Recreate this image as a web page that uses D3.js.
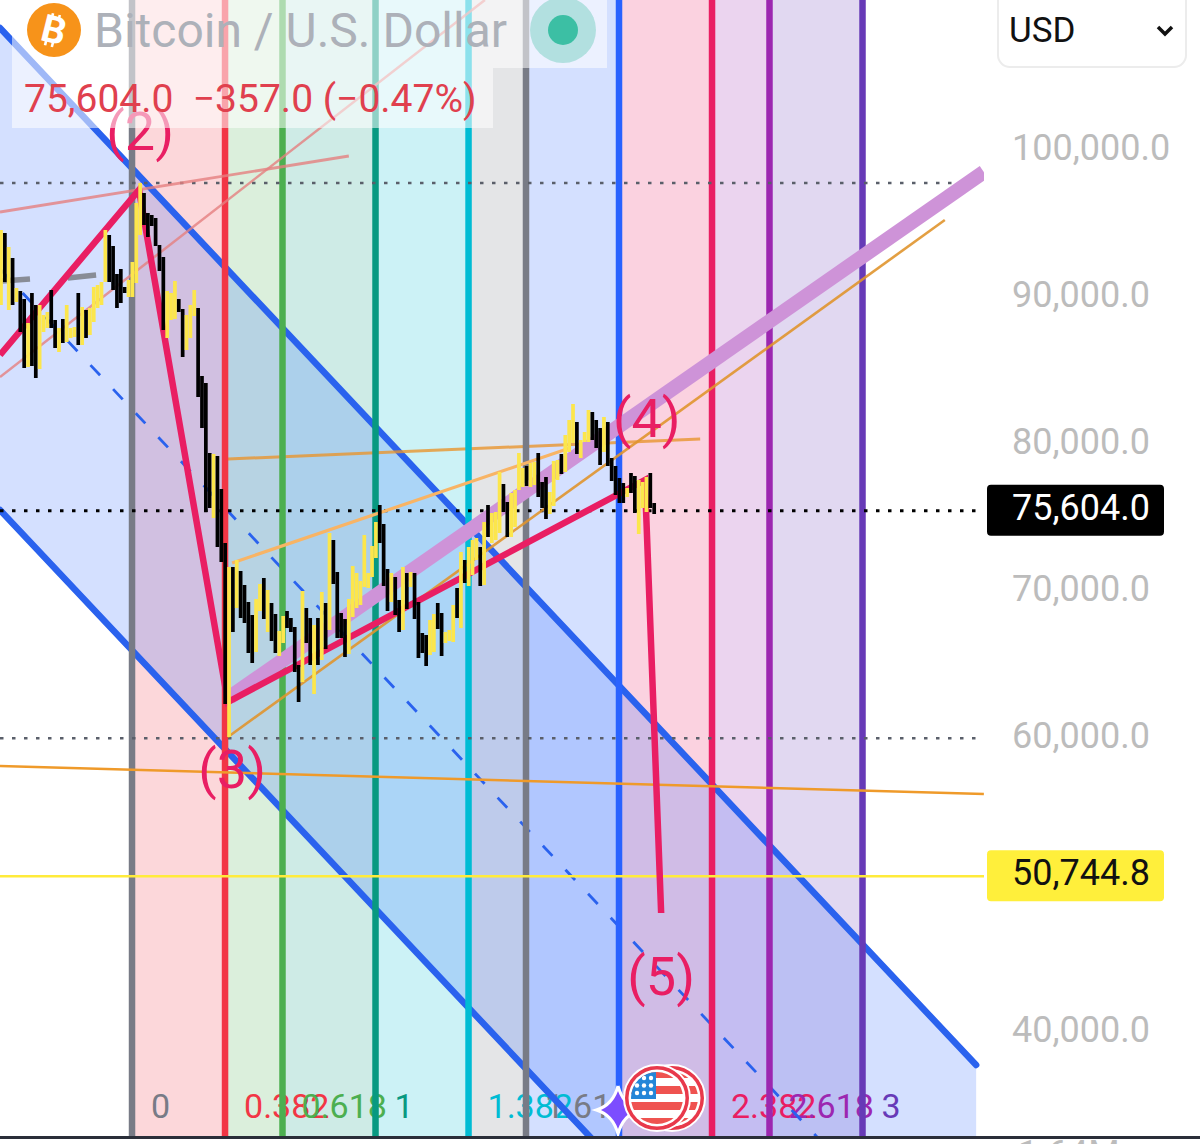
<!DOCTYPE html>
<html><head><meta charset="utf-8">
<script src="https://cdn.jsdelivr.net/npm/d3@7"></script>
<style>html,body{margin:0;padding:0;background:#fff;overflow:hidden}svg{display:block}text{font-family:Roboto,sans-serif}</style>
</head><body><svg id="c" width="1200" height="1144"></svg>
<script>
const candleHigh=[94696,94492,93540,92792,90752,90548,90004,88372,90412,89596,89596,88916,89120,90616,88576,88032,88644,89596,88032,88100,90412,89460,89256,89392,90820,90956,91160,94696,94356,93608,91704,92044,90820,91296,92520,96532,97892,97212,95852,95716,95512,93676,92860,90548,90412,91228,90004,89324,88916,89596,90616,89392,84768,84292,79532,79464,79328,77084,73412,71780,71780,72256,71508,70556,69400,68516,69604,70624,71032,70216,69332,68584,67428,68448,68788,68312,67700,65116,70148,68992,68312,67836,68312,70080,69332,74092,73616,71440,68652,68244,69604,71848,71372,70828,73956,71372,73208,74840,75996,74704,71644,71372,71100,69536,71780,71372,71440,71372,69400,67292,67156,68176,68584,69332,68652,67360,67496,69196,70352,72800,72256,73140,73616,73752,73140,74840,75996,75452,75520,78240,77424,76200,76812,77016,79532,78512,78648,78852,78920,79532,77560,77900,76880,78988,79056,79464,80756,81776,82864,81640,80416,80960,82456,82320,81776,81232,81980,81640,79192,78648,77832,77492,77152,78172,77968,77696,77560,77900,78172,76132];
const candleLow=[89596,91160,89256,89596,89800,87760,85312,85380,85448,84632,85244,87760,88032,88032,86672,86400,87012,87080,87352,87420,86876,86876,87352,87556,88440,89392,89596,91160,91160,90616,89392,89732,90412,90140,90140,91092,94356,95036,94220,94968,93608,91908,87896,87352,88576,88644,89120,86060,86536,87352,88848,83340,81232,75520,75792,75112,73140,72120,62464,60220,67360,68992,68312,67972,65932,65252,66000,68788,68244,67360,66748,65932,65728,66612,67632,67360,64640,62600,63960,66612,65116,63144,65116,65456,66204,67496,70624,66952,66952,65660,65864,68380,68992,69196,70420,70352,71100,72392,73412,70488,68788,69400,68516,67360,67496,68924,70420,68244,65592,65932,65048,65796,66000,67564,65728,66612,66748,66680,68312,67632,70692,70488,71236,72256,70488,70556,73820,73412,73616,74092,75520,73820,73820,74500,77016,77220,77288,77220,77356,76540,75792,75044,75384,75928,77696,78104,78240,79600,80212,79464,79192,80280,80280,80416,79872,78716,79600,78648,77628,76676,76132,76132,76540,76812,75452,74024,75792,75520,75792,75384];
const candleUp=[1,0,1,0,1,0,0,1,0,0,1,1,1,0,0,1,0,1,1,1,0,1,0,1,1,1,1,1,0,0,0,0,0,1,1,1,1,0,0,0,0,0,0,1,1,1,0,0,1,1,1,0,0,0,0,1,0,0,0,1,0,1,0,0,0,0,1,1,0,1,0,0,1,1,0,0,0,0,1,0,0,1,0,1,0,1,0,0,0,0,1,1,1,1,1,1,1,1,0,0,0,1,0,0,1,0,1,0,0,0,0,1,1,0,0,1,1,1,0,1,0,1,1,1,0,1,0,1,1,1,0,0,1,1,1,1,0,1,1,0,0,0,1,1,1,0,1,1,1,0,1,1,1,0,0,0,1,0,0,0,0,0,1,0,0,1,1,1,0,0];
const priceTicks=[100000,90000,80000,70000,60000,40000];
const lastPrice=75604, targetPrice=50744.8, highLevel=97890, lowLevel=60136;
const fibLevels=[0,0.382,0.618,1,1.382,1.618,2,2.382,2.618,3];
const fibColors=["#787B86","#F23645","#4CAF50","#089981","#00BCD4","#787B86","#2962FF","#E91E63","#9C27B0","#673AB7"];
const fibStart=33.9, fibUnit=63;
const channelBars=[-0.26,252.3];
const channelTop=[108432,37916], channelMid=[92044,21528], channelBottom=[75656,5140];
const waveBars=[-0.26,35.7,58.7,166.6,170.8];
const wavePrices=[86196,97416,62600,77696,48252];
const waveLabels=["(2)","(3)","(4)","(5)"];
const waveLabelBars=[36,59.8,167.1,170.8];
const waveLabelPrices=[100136,56752,80620,42676];
const trendLines=[
 {bars:[59.25,254.3],prices:[62940,98640],color:"#ce93d8",width:14.5,layer:1},
 {bars:[-0.26,254.3],prices:[58248,56344],color:"#ef9a2a",width:2.6,layer:1},
 {bars:[58.7,180.9],prices:[79124,80484],color:"#e8952e",width:3,layer:0,op:.8},
 {bars:[59.8,147.2],prices:[72052,79872],color:"#f8b465",width:3.2,layer:1},
 {bars:[58.7,244.2],prices:[60220,95376],color:"#e0952e",width:2.6,layer:1,op:.9},
 {bars:[-0.26,125.2],prices:[84700,110336],color:"#e58080",width:2.5,layer:1,op:.8},
 {bars:[-0.26,90],prices:[95920,99728],color:"#e58080",width:2.8,layer:1,op:.8},
 {bars:[0.26,7.5],prices:[91228,91364],color:"#888c96",width:5.5,layer:1},
 {bars:[17.3,24.6],prices:[91432,91636],color:"#888c96",width:5.5,layer:1}
];
const svg=d3.select("#c");
const x=d3.scaleLinear().domain([0,250]).range([1,1+250*3.865]);
const y=d3.scaleLinear().domain([40000,100000]).range([(110336-40000)/68,152]);
const defs=svg.append("defs");
defs.append("clipPath").attr("id","plot").append("rect").attr("x",0).attr("y",0).attr("width",984).attr("height",1136);
const plot=svg.append("g").attr("clip-path","url(#plot)");
const fibX=r=>x(fibStart+r*fibUnit);
plot.selectAll("rect.band").data(fibLevels.slice(1)).join("rect")
 .attr("x",(d,i)=>fibX(fibLevels[i])).attr("width",(d,i)=>fibX(d)-fibX(fibLevels[i]))
 .attr("y",0).attr("height",1136).attr("fill",(d,i)=>fibColors[i+1]).attr("opacity",.2);
const channelArea=d3.area().x((d,i)=>x(channelBars[i])).y0((d,i)=>y(channelBottom[i])).y1((d,i)=>y(channelTop[i]));
plot.append("path").attr("d",channelArea(channelBars)).attr("fill","#2962FF").attr("opacity",.2);
// fib labels sit under the lines
plot.selectAll("text.fl").data(fibLevels).join("text").attr("x",d=>fibX(d)+19).attr("y",1118).attr("font-size",34)
 .attr("fill",(d,i)=>fibColors[i]).text(d=>d);
const seg=(bars,prices)=>d3.line()(bars.map((b,i)=>[x(b),y(prices[i])]));
[channelTop,channelBottom].forEach(c=>plot.append("path").attr("d",seg(channelBars,c)).attr("stroke","#2a62ee").attr("stroke-width",6.5).attr("stroke-linecap","round").attr("fill","none"));
plot.append("path").attr("d",seg(channelBars,channelMid)).attr("stroke","#2a62ee").attr("stroke-width",2.8).attr("stroke-dasharray","14 19").attr("fill","none");
const drawLines=l=>plot.selectAll(null).data(trendLines.filter(d=>d.layer===l)).join("path")
 .attr("d",d=>seg(d.bars,d.prices)).attr("stroke",d=>d.color).attr("stroke-width",d=>d.width).attr("stroke-opacity",d=>d.op||1).attr("fill","none");
drawLines(0);
plot.selectAll("line.fib").data(fibLevels).join("line").attr("x1",fibX).attr("x2",fibX).attr("y1",0).attr("y2",1136)
 .attr("stroke",(d,i)=>fibColors[i]).attr("stroke-width",6.5);
plot.append("line").attr("x1",0).attr("x2",984).attr("y1",y(targetPrice)).attr("y2",y(targetPrice)).attr("stroke","#ffeb3b").attr("stroke-width",2.5);
[[highLevel,"#5a5f6a",2.5],[lowLevel,"#5a5f6a",2.5],[lastPrice,"#000",3]].forEach(([p,c,w])=>
 plot.append("line").attr("x1",0).attr("x2",978).attr("y1",y(p)).attr("y2",y(p)).attr("stroke",c).attr("stroke-width",w).attr("stroke-dasharray","3.5 8.5"));
drawLines(1);
plot.append("path").attr("d",seg(waveBars,wavePrices)).attr("stroke","#E91E63").attr("stroke-width",6.5).attr("stroke-linejoin","miter").attr("fill","none");
plot.selectAll("text.wave").data(waveLabels).join("text").attr("x",(d,i)=>x(waveLabelBars[i])).attr("y",(d,i)=>y(waveLabelPrices[i]))
 .attr("text-anchor","middle").attr("font-size",54).attr("font-weight",400).attr("fill","#E91E63").text(d=>d);
plot.selectAll("rect.candle").data(candleHigh).join("rect")
 .attr("x",(d,i)=>x(i)-1.85).attr("width",3.7).attr("y",d=>y(d)).attr("height",(d,i)=>y(candleLow[i])-y(d))
 .attr("fill",(d,i)=>candleUp[i]?"#fce64c":"#000");
// header overlay
svg.append("rect").attr("x",12).attr("y",0).attr("width",595).attr("height",68).attr("fill","#fff").attr("opacity",.55);
svg.append("rect").attr("x",12).attr("y",68).attr("width",481).attr("height",60).attr("fill","#fff").attr("opacity",.55);
svg.append("circle").attr("cx",54).attr("cy",30).attr("r",27).attr("fill","#f7931a");
svg.append("text").attr("x",54).attr("y",43).attr("text-anchor","middle").attr("font-size",38).attr("font-weight",700).attr("fill","#fff").attr("transform","rotate(14 54 30)").text("B");
[[49,14,49,20],[56,14,56,20],[49,41,49,47],[56,41,56,47]].forEach(a=>svg.append("line").attr("x1",a[0]).attr("y1",a[1]).attr("x2",a[2]).attr("y2",a[3]).attr("stroke","#fff").attr("stroke-width",2.6).attr("transform","rotate(14 54 30)"));
svg.append("text").attr("x",94).attr("y",47).attr("font-size",48).attr("fill","#adb1b9").text("Bitcoin / U.S. Dollar");
svg.append("circle").attr("cx",563).attr("cy",30).attr("r",33).attr("fill","#9fdad6").attr("opacity",.75);
svg.append("circle").attr("cx",563).attr("cy",30).attr("r",15).attr("fill","#3cbfa4");
svg.append("text").attr("x",24).attr("y",112).attr("font-size",39).attr("fill","#e0404e").text("75,604.0  \u2212357.0 (\u22120.47%)").style("white-space","pre");
// flags
const flag=(cx,id)=>{
 defs.append("clipPath").attr("id",id).append("circle").attr("cx",cx).attr("cy",1098).attr("r",26);
 svg.append("circle").attr("cx",cx).attr("cy",1098).attr("r",33).attr("fill","#e8394b").attr("stroke","#fff").attr("stroke-width",2);
 svg.append("circle").attr("cx",cx).attr("cy",1098).attr("r",28.5).attr("fill","#fff");
 const g=svg.append("g").attr("clip-path",`url(#${id})`);
 d3.range(0,7).forEach(i=>{if(i%2===0)g.append("rect").attr("x",cx-27).attr("y",1070+i*8).attr("width",54).attr("height",8).attr("fill","#ef5350");});
 g.append("rect").attr("x",cx-27).attr("y",1070).attr("width",26).attr("height",29).attr("fill","#2486d8");
 d3.range(3).forEach(r=>d3.range(3).forEach(c=>g.append("circle").attr("cx",cx-20+c*7).attr("cy",1078+r*7.5).attr("r",2.2).attr("fill","#fff")));
};
svg.append("path").attr("d",(()=>{const a=24,b=5,c=[618,1110],p=d3.path();p.moveTo(c[0],c[1]-a);p.quadraticCurveTo(c[0]+b,c[1]-b,c[0]+a*.9,c[1]);p.quadraticCurveTo(c[0]+b,c[1]+b,c[0],c[1]+a);p.quadraticCurveTo(c[0]-b,c[1]+b,c[0]-a*.9,c[1]);p.quadraticCurveTo(c[0]-b,c[1]-b,c[0],c[1]-a);return p.toString();})())
 .attr("fill","#7c4dff").attr("stroke","#fff").attr("stroke-width",3);
flag(672,"f2");flag(657,"f1");
// axis
const axis=d3.axisRight(y).tickValues(priceTicks).tickFormat(d3.format(",.1f")).tickSize(0);
const ag=svg.append("g").attr("transform","translate(1012,0)").call(axis);
ag.select(".domain").remove();
ag.selectAll("text").attr("x",0).attr("y",-4).attr("font-size",36).attr("font-family","Roboto").attr("fill","#bcbcbc");
const badge=(p,bg,fg,t)=>{
 svg.append("rect").attr("x",987).attr("y",y(p)-26).attr("width",177).attr("height",51).attr("rx",4).attr("fill",bg);
 svg.append("text").attr("x",1012).attr("y",y(p)+9).attr("font-size",36).attr("fill",fg).text(d3.format(",.1f")(t));
};
badge(lastPrice,"#000","#fff",lastPrice);
badge(targetPrice,"#ffef3b","#111",targetPrice);
// USD
svg.append("rect").attr("x",998).attr("y",-20).attr("width",188).attr("height",87).attr("rx",12).attr("fill","#fff").attr("stroke","#ececec").attr("stroke-width",2);
svg.append("text").attr("x",1009).attr("y",42).attr("font-size",35).attr("fill","#111").text("USD");
svg.append("path").attr("d","M1158 27 L1165 34 L1172 27").attr("fill","none").attr("stroke","#111").attr("stroke-width",3.5);
// bottom
svg.append("rect").attr("x",0).attr("y",1136).attr("width",1200).attr("height",3).attr("fill","#2a2e39");
svg.append("text").attr("x",1018).attr("y",1166).attr("font-size",36).attr("fill","#bcbcbc").text("1.64M");
</script></body></html>
